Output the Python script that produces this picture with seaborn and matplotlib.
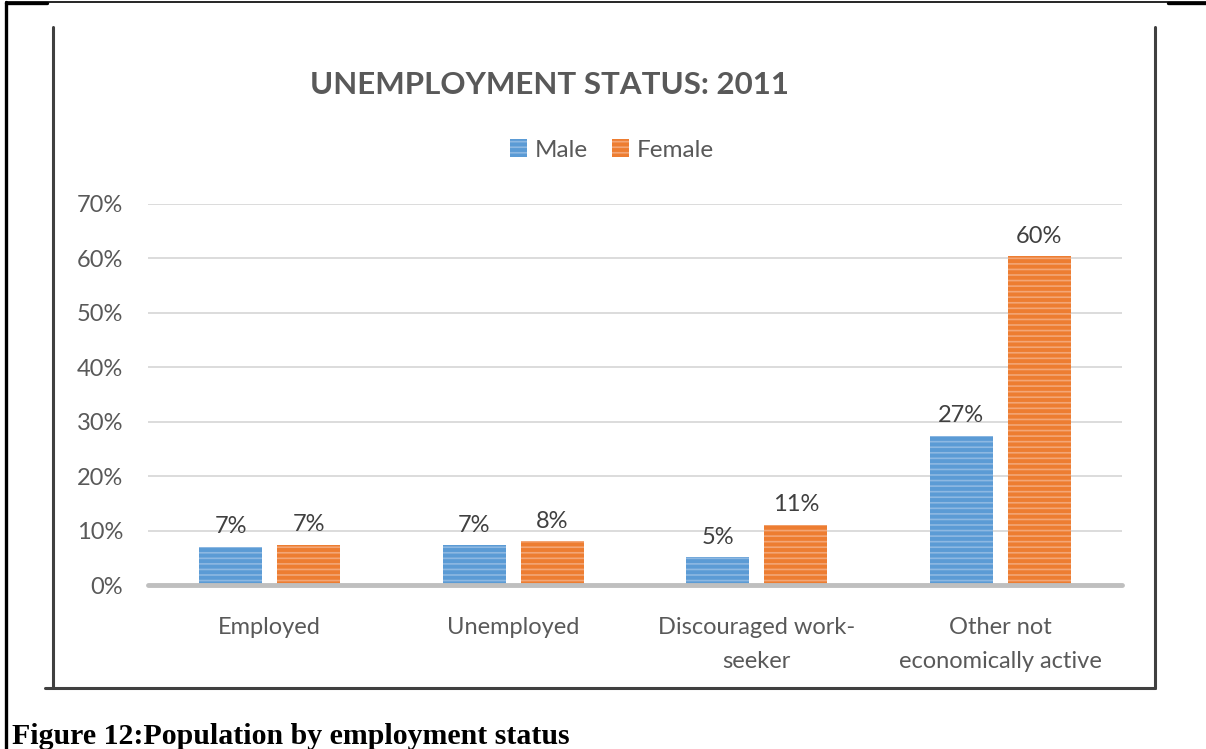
import matplotlib
matplotlib.use("Agg")
import matplotlib.pyplot as plt
import seaborn as sns
import pandas as pd
from matplotlib.lines import Line2D
from matplotlib.patches import Patch

categories = ["Employed", "Unemployed", "Discouraged work-\nseeker", "Other not\neconomically active"]
series = ["Male", "Female"]
male = [7.0, 7.3, 5.1, 27.4]
female = [7.4, 8.0, 11.0, 60.4]
yticks = [0, 10, 20, 30, 40, 50, 60, 70]

colors = {"Male": "#5B9BD5", "Female": "#ED7D31"}
stripe = {"Male": "#8DB8E2", "Female": "#F3A676"}

df = pd.DataFrame({
    "category": categories * 2,
    "sex": ["Male"] * 4 + ["Female"] * 4,
    "value": male + female,
})

sns.set_theme(style="white")
plt.rcParams['font.family'] = ['Lato', 'DejaVu Sans']
plt.rcParams['hatch.linewidth'] = 1.2

W, H = 1206, 749
fig = plt.figure(figsize=(W / 100, H / 100), dpi=100)
ax = fig.add_axes([148 / W, 1 - 585 / H, (1122 - 148) / W, (585 - 204) / H])

sns.barplot(data=df, x="category", y="value", hue="sex", order=categories,
            hue_order=series, palette=colors, width=0.64, gap=0.1875,
            ax=ax, legend=False, saturation=1)

for cont, s in zip(ax.containers, series):
    for p in cont.patches:
        p.set_hatch("---")
        p.set_edgecolor(stripe[s])
        p.set_linewidth(0)
    ax.bar_label(cont, labels=[f"{round(v)}%" for v in cont.datavalues],
                 padding=7, fontsize=17, color="#404040")

ax.set_xlim(-0.5, 3.5)
ax.set_ylim(0, 70)
ax.set_yticks(yticks)
ax.set_yticklabels([f"{t}%" for t in yticks])
ax.set_xlabel("")
ax.set_ylabel("")
for sp in ax.spines.values():
    sp.set_visible(False)
ax.tick_params(axis="y", length=0, pad=18, labelsize=17, labelcolor="#595959")
ax.tick_params(axis="x", length=0, pad=23, labelsize=17, labelcolor="#595959")
for lab in ax.get_xticklabels():
    lab.set_linespacing(1.75)
    lab.set_verticalalignment("top")
for t in yticks[1:]:
    ax.axhline(t, color="#D9D9D9", lw=1.3, zorder=0)
ax.axhline(0, color="#BFBFBF", lw=3.5, zorder=3, clip_on=False)

fig.text(550 / W, 1 - 85 / H, "UNEMPLOYMENT STATUS: 2011", ha="center", va="center",
         fontsize=22.5, fontweight="bold", color="#595959")

handles = [Patch(facecolor=colors[s], edgecolor=stripe[s], hatch="---", linewidth=0) for s in series]
fig.legend(handles, series, loc="center", bbox_to_anchor=(612 / W, 1 - 150 / H), ncol=2,
           frameon=False, fontsize=17.5, labelcolor="#595959", handlelength=0.7,
           handleheight=0.7, handletextpad=0.3, columnspacing=1.0)

# chart image frame
fig.add_artist(Line2D([53 / W, 53 / W], [1 - 27 / H, 1 - 688 / H], color="#404040", lw=2.2))
fig.add_artist(Line2D([1155 / W, 1155 / W], [1 - 27 / H, 1 - 688 / H], color="#404040", lw=2.2))
fig.add_artist(Line2D([45 / W, 1155 / W], [1 - 688 / H, 1 - 688 / H], color="#404040", lw=2.2))

# document table frame
fig.add_artist(Line2D([6 / W, 6 / W], [1 - 2 / H, 0], color="black", lw=2.4))
fig.add_artist(Line2D([6 / W, 1206 / W], [1 - 2 / H, 1 - 2 / H], color="black", lw=1.2))
fig.add_artist(Line2D([6 / W, 47 / W], [1 - 3 / H, 1 - 3 / H], color="black", lw=2.4))
fig.add_artist(Line2D([1168 / W, 1206 / W], [1 - 3 / H, 1 - 3 / H], color="black", lw=2.4))

fig.text(12 / W, 1 - 736 / H, "Figure 12:Population by employment status", ha="left", va="center",
         fontsize=21.5, fontweight="bold", family=["Liberation Serif", "DejaVu Serif"], color="black")

fig.savefig("out.png", dpi=100, facecolor="white")
